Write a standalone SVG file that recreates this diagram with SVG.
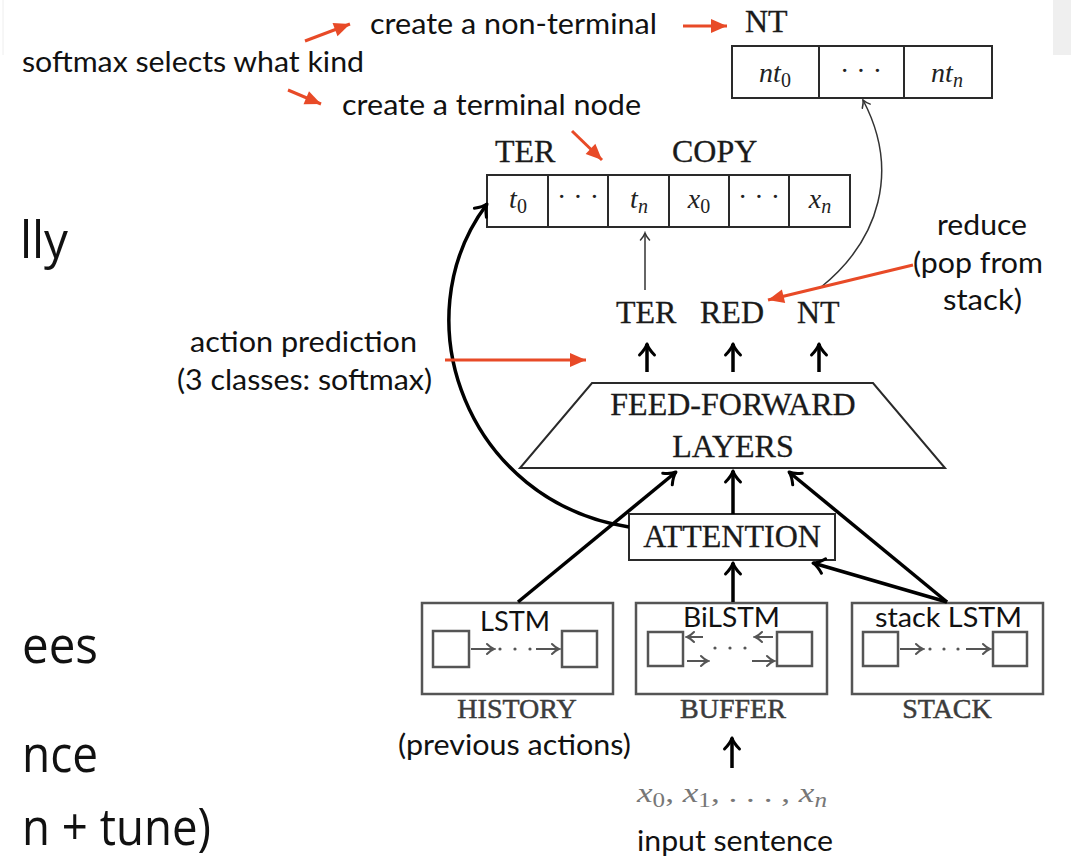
<svg xmlns="http://www.w3.org/2000/svg" width="1071" height="861" viewBox="0 0 1071 861">
  <style>
    .note { font-family: Lato, "Liberation Sans", sans-serif; font-size: 29px; fill: #111; }
    .inner { font-family: Lato, "Liberation Sans", sans-serif; font-size: 27px; fill: #111; }
    .slide { font-family: "Open Sans", "Noto Sans", sans-serif; font-size: 52px; fill: #111; }
    .cap { font-family: "Liberation Serif", serif; font-size: 32px; fill: #1a1a1a; stroke: #1a1a1a; stroke-width: 0.3; }
    .sub-cap { font-family: "Liberation Serif", serif; font-size: 28px; fill: #3c3c3c; stroke: #3c3c3c; stroke-width: 0.5; }
    .math { font-family: "Liberation Serif", serif; font-size: 28px; fill: #222; }
    .mi { font-style: italic; }
    .box { fill: #fff; stroke: #2a2a2a; stroke-width: 2; }
    .lbox { fill: #fff; stroke: #555; stroke-width: 2.5; }
    .thick { fill: none; stroke: #000; stroke-width: 3.5; marker-end: url(#stealth); }
    .thin { fill: none; stroke: #333; stroke-width: 1.5; marker-end: url(#tip); }
    .small { fill: none; stroke: #555; stroke-width: 2; marker-end: url(#tiny); }
    .red { fill: none; stroke: #e84a27; stroke-width: 3; marker-end: url(#redhead); }
  </style>
  <defs>
    <marker id="stealth" markerUnits="userSpaceOnUse" viewBox="-14 -10 16 20" refX="0" refY="0" markerWidth="16" markerHeight="20" orient="auto">
      <path d="M -11 -7.5 Q -5 -1.5 0 0 Q -5 1.5 -11 7.5" fill="none" stroke="#000" stroke-width="3" stroke-linecap="round" stroke-linejoin="round"/>
    </marker>
    <marker id="tip" markerUnits="userSpaceOnUse" viewBox="-10 -7 12 14" refX="0" refY="0" markerWidth="12" markerHeight="14" orient="auto">
      <path d="M -7 -4.5 Q -3 -1 0 0 Q -3 1 -7 4.5" fill="none" stroke="#333" stroke-width="1.5" stroke-linecap="round"/>
    </marker>
    <marker id="tiny" markerUnits="userSpaceOnUse" viewBox="-10 -7 12 14" refX="0" refY="0" markerWidth="12" markerHeight="14" orient="auto">
      <path d="M -7 -5 Q -3 -1 0 0 Q -3 1 -7 5" fill="none" stroke="#555" stroke-width="2" stroke-linecap="round"/>
    </marker>
    <marker id="redhead" markerUnits="userSpaceOnUse" viewBox="-17 -9 18 18" refX="0" refY="0" markerWidth="18" markerHeight="18" orient="auto">
      <path d="M 0 0 L -16 -7 L -16 7 Z" fill="#e84a27"/>
    </marker>
  </defs>

  <rect width="1071" height="861" fill="#fff"/>
  <!-- slide frame leftovers -->
  <rect x="1053" y="0" width="18" height="55" fill="#efefef"/>
  <line x1="3" y1="0" x2="3" y2="55" stroke="#eeeeee" stroke-width="1"/>

  <!-- slide body text cut at the left edge -->
  <g id="slide-text" class="slide">
    <text x="20" y="258" textLength="48" lengthAdjust="spacingAndGlyphs">lly</text>
    <text x="22" y="663" textLength="76" lengthAdjust="spacingAndGlyphs">ees</text>
    <text x="22" y="772" textLength="76" lengthAdjust="spacingAndGlyphs">nce</text>
    <text x="22" y="845" textLength="189" lengthAdjust="spacingAndGlyphs">n + tune)</text>
  </g>

  <!-- annotations -->
  <g id="annotations">
    <text class="note" x="370" y="34" textLength="287" lengthAdjust="spacingAndGlyphs">create a non-terminal</text>
    <text class="note" x="22" y="72" textLength="342" lengthAdjust="spacingAndGlyphs">softmax selects what kind</text>
    <text class="note" x="342" y="115" textLength="299" lengthAdjust="spacingAndGlyphs">create a terminal node</text>
    <text class="note" x="190" y="352" textLength="227" lengthAdjust="spacingAndGlyphs">action prediction</text>
    <text class="note" x="177" y="390" textLength="255" lengthAdjust="spacingAndGlyphs">(3 classes: softmax)</text>
    <text class="note" x="937" y="235" textLength="90" lengthAdjust="spacingAndGlyphs">reduce</text>
    <text class="note" x="913" y="273" textLength="130" lengthAdjust="spacingAndGlyphs">(pop from</text>
    <text class="note" x="943" y="310" textLength="79" lengthAdjust="spacingAndGlyphs">stack)</text>
    <text class="note" x="398" y="755" textLength="233" lengthAdjust="spacingAndGlyphs">(previous actions)</text>
    <text class="note" x="637" y="851" textLength="196" lengthAdjust="spacingAndGlyphs">input sentence</text>
  </g>

  <!-- non-terminal output vocabulary -->
  <g id="nt-vocab">
    <text class="cap" x="745" y="32">NT</text>
    <rect class="box" x="732" y="46" width="260" height="52"/>
    <line x1="819" y1="46" x2="819" y2="98" stroke="#2a2a2a" stroke-width="2"/>
    <line x1="904" y1="46" x2="904" y2="98" stroke="#2a2a2a" stroke-width="2"/>
    <text class="math" x="775" y="82" text-anchor="middle"><tspan class="mi">nt</tspan><tspan font-size="20" dy="5">0</tspan></text>
    <text class="math" x="861" y="80" text-anchor="middle">· · ·</text>
    <text class="math" x="947" y="82" text-anchor="middle"><tspan class="mi">nt</tspan><tspan class="mi" font-size="20" dy="5">n</tspan></text>
  </g>

  <!-- terminal / copy output vocabulary -->
  <g id="ter-copy">
    <text class="cap" x="495" y="162">TER</text>
    <text class="cap" x="672" y="162">COPY</text>
    <rect class="box" x="487" y="175" width="363" height="52"/>
    <g stroke="#2a2a2a" stroke-width="2">
      <line x1="548" y1="175" x2="548" y2="227"/>
      <line x1="608" y1="175" x2="608" y2="227"/>
      <line x1="669" y1="175" x2="669" y2="227"/>
      <line x1="729" y1="175" x2="729" y2="227"/>
      <line x1="789" y1="175" x2="789" y2="227"/>
    </g>
    <text class="math" x="518" y="208" text-anchor="middle"><tspan class="mi">t</tspan><tspan font-size="20" dy="5">0</tspan></text>
    <text class="math" x="578" y="206" text-anchor="middle">· · ·</text>
    <text class="math" x="639" y="208" text-anchor="middle"><tspan class="mi">t</tspan><tspan class="mi" font-size="20" dy="5">n</tspan></text>
    <text class="math" x="699" y="208" text-anchor="middle"><tspan class="mi">x</tspan><tspan font-size="20" dy="5">0</tspan></text>
    <text class="math" x="759" y="206" text-anchor="middle">· · ·</text>
    <text class="math" x="820" y="208" text-anchor="middle"><tspan class="mi">x</tspan><tspan class="mi" font-size="20" dy="5">n</tspan></text>
  </g>

  <!-- action classes -->
  <g id="actions" class="cap">
    <text x="616" y="323">TER</text>
    <text x="700" y="323">RED</text>
    <text x="797" y="323">NT</text>
  </g>

  <!-- feed-forward layers -->
  <g id="feed-forward">
    <polygon class="box" points="592,383 873,383 945,468 520,468"/>
    <text class="cap" x="733" y="415" text-anchor="middle">FEED-FORWARD</text>
    <text class="cap" x="733" y="457" text-anchor="middle">LAYERS</text>
  </g>

  <!-- attention -->
  <g id="attention">
    <rect class="box" x="629" y="514" width="206" height="46" stroke-width="2.5"/>
    <text class="cap" x="732" y="547" text-anchor="middle">ATTENTION</text>
  </g>

  <!-- history LSTM -->
  <g id="history">
    <rect class="lbox" x="422" y="603" width="191" height="91"/>
    <rect class="lbox" x="433" y="631" width="36" height="36"/>
    <rect class="lbox" x="562" y="631" width="35" height="36"/>
    <line class="small" x1="471" y1="649" x2="494" y2="649"/>
    <line class="small" x1="536" y1="649" x2="559" y2="649"/>
    <g fill="#555"><circle cx="500" cy="649" r="1.6"/><circle cx="515" cy="649" r="1.6"/><circle cx="530" cy="649" r="1.6"/></g>
    <text class="inner" x="480" y="631" textLength="70" lengthAdjust="spacingAndGlyphs">LSTM</text>
    <text class="sub-cap" x="517" y="718" text-anchor="middle">HISTORY</text>
  </g>

  <!-- buffer BiLSTM -->
  <g id="buffer">
    <rect class="lbox" x="636" y="603" width="191" height="91"/>
    <rect class="lbox" x="648" y="632" width="35" height="34"/>
    <rect class="lbox" x="777" y="632" width="35" height="34"/>
    <line class="small" x1="703" y1="637" x2="687" y2="637"/>
    <line class="small" x1="773" y1="637" x2="755" y2="637"/>
    <line class="small" x1="687" y1="661" x2="708" y2="661"/>
    <line class="small" x1="752" y1="661" x2="774" y2="661"/>
    <g fill="#555"><circle cx="715" cy="648" r="1.6"/><circle cx="730" cy="648" r="1.6"/><circle cx="745" cy="648" r="1.6"/></g>
    <text class="inner" x="683" y="627" textLength="97" lengthAdjust="spacingAndGlyphs">BiLSTM</text>
    <text class="sub-cap" x="733" y="718" text-anchor="middle">BUFFER</text>
  </g>

  <!-- stack LSTM -->
  <g id="stack">
    <rect class="lbox" x="852" y="603" width="191" height="91"/>
    <rect class="lbox" x="863" y="632" width="35" height="34"/>
    <rect class="lbox" x="993" y="632" width="34" height="34"/>
    <line class="small" x1="900" y1="649" x2="923" y2="649"/>
    <line class="small" x1="966" y1="649" x2="990" y2="649"/>
    <g fill="#555"><circle cx="930" cy="649" r="1.6"/><circle cx="944" cy="649" r="1.6"/><circle cx="958" cy="649" r="1.6"/></g>
    <text class="inner" x="875" y="627" textLength="147" lengthAdjust="spacingAndGlyphs">stack LSTM</text>
    <text class="sub-cap" x="947" y="718" text-anchor="middle">STACK</text>
  </g>

  <!-- input sentence tokens -->
  <g id="input">
    <text class="math" x="637" y="802" style="fill:#777" textLength="190" lengthAdjust="spacingAndGlyphs"><tspan class="mi">x</tspan><tspan font-size="20" dy="5">0</tspan><tspan dy="-5">, </tspan><tspan class="mi">x</tspan><tspan font-size="20" dy="5">1</tspan><tspan dy="-5">, . . . , </tspan><tspan class="mi">x</tspan><tspan class="mi" font-size="20" dy="5">n</tspan></text>
  </g>

  <!-- connectors -->
  <g id="connectors">
    <line class="thick" x1="518" y1="602" x2="676" y2="472"/>
    <line class="thick" x1="733" y1="602" x2="733" y2="563"/>
    <line class="thick" x1="947" y1="602" x2="813" y2="563"/>
    <line class="thick" x1="947" y1="602" x2="789" y2="472"/>
    <line class="thick" x1="733" y1="514" x2="733" y2="471"/>
    <path class="thick" d="M 629 527 C 468 502, 400 320, 487 204"/>
    <line class="thick" x1="732" y1="768" x2="732" y2="738"/>
    <line class="thick" x1="647" y1="372" x2="647" y2="344"/>
    <line class="thick" x1="733" y1="372" x2="733" y2="344"/>
    <line class="thick" x1="819" y1="372" x2="819" y2="344"/>
    <line class="thin" x1="645" y1="290" x2="645" y2="233"/>
    <path class="thin" d="M 820 288 C 880 240, 900 170, 863 100"/>
    <!-- annotation pointers -->
    <line class="red" x1="305" y1="41" x2="350" y2="24"/>
    <line class="red" x1="288" y1="90" x2="321" y2="104"/>
    <line class="red" x1="572" y1="131" x2="602" y2="160"/>
    <line class="red" x1="683" y1="26" x2="727" y2="26"/>
    <line class="red" x1="913" y1="265" x2="768" y2="300"/>
    <line class="red" x1="445" y1="360" x2="586" y2="360"/>
  </g>
</svg>
